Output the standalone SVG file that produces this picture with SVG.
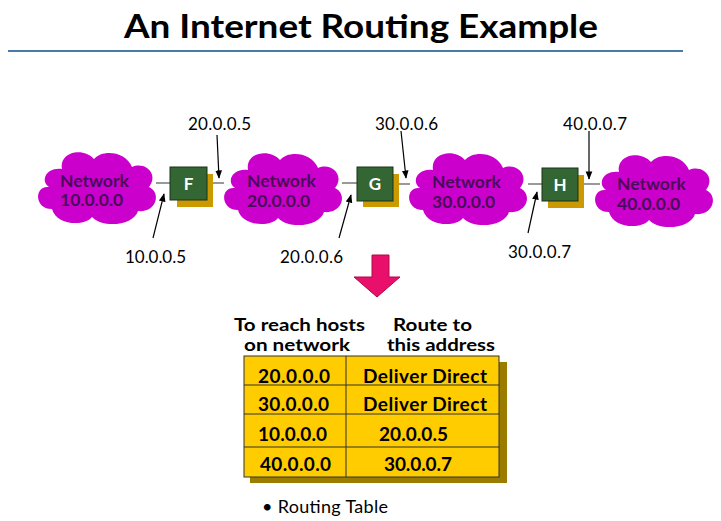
<svg xmlns="http://www.w3.org/2000/svg" width="721" height="521" viewBox="0 0 721 521">
<style>
text{font-family:Lato,"Open Sans","Liberation Sans",sans-serif}
.title{font-size:33px;font-weight:bold;fill:#000}
.lbl{font-size:17px;fill:#000}
.net{font-size:17.5px;font-weight:bold;fill:#4a0a5a}
.cloud{fill:#cc00cc}
.rt{fill:#336633;stroke:#1a331a;stroke-width:1}
.sh{fill:#cc9900}
.rl{font-size:17px;font-weight:bold;fill:#fff;text-anchor:middle}
.link{stroke:#555;stroke-width:1.2;fill:none}
.arr{stroke:#000;stroke-width:1.2;fill:none;marker-end:url(#ah)}
.th{font-size:16.5px;font-weight:bold;fill:#000}
.td{font-size:19px;font-weight:bold;fill:#000}
</style>
<defs>
<marker id="ah" viewBox="0 0 10 10" refX="9" refY="5" markerWidth="7" markerHeight="7" orient="auto"><path d="M0,1 L10,5 L0,9 Z" fill="#000"/></marker>
<path id="cl" d="M15,40 C0,38 0,62 18,62 C22,78 50,80 58,70 C70,82 100,78 104,64 C122,66 128,46 115,40 C125,28 112,14 98,20 C92,4 68,2 60,12 C50,0 25,4 28,22 C12,20 6,34 15,40 Z"/>
</defs>
<rect width="721" height="521" fill="#fff"/>
<text class="title" x="361" y="38" text-anchor="middle" textLength="474" lengthAdjust="spacingAndGlyphs">An Internet Routing Example</text>
<line x1="8" y1="51" x2="683" y2="51" stroke="#4a7ba6" stroke-width="2"/>
<g id="connectors">
<line class="link" x1="156" y1="183" x2="170" y2="183"/>
<line class="link" x1="207" y1="183" x2="224" y2="183"/>
<line class="link" x1="342" y1="183" x2="357" y2="183"/>
<line class="link" x1="393" y1="184" x2="410" y2="184"/>
<line class="link" x1="528" y1="184" x2="542" y2="184"/>
<line class="link" x1="578" y1="184" x2="600" y2="184"/>
<line class="arr" x1="217" y1="135" x2="219" y2="178"/>
<line class="arr" x1="153" y1="238" x2="164" y2="194"/>
<line class="arr" x1="401" y1="131" x2="406" y2="178"/>
<line class="arr" x1="339" y1="238" x2="351" y2="195"/>
<line class="arr" x1="589" y1="131" x2="589" y2="179"/>
<line class="arr" x1="528" y1="233" x2="537" y2="192"/>
</g>
<g id="net10"><use href="#cl" class="cloud" transform="translate(34,147)"/><text class="net" x="60" y="187">Network</text><text class="net" x="60" y="206">10.0.0.0</text></g>
<g id="net20"><use href="#cl" class="cloud" transform="translate(220,148)"/><text class="net" x="247" y="187">Network</text><text class="net" x="247" y="207">20.0.0.0</text></g>
<g id="net30"><use href="#cl" class="cloud" transform="translate(405,148)"/><text class="net" x="432" y="188">Network</text><text class="net" x="432" y="208">30.0.0.0</text></g>
<g id="net40"><use href="#cl" class="cloud" transform="translate(591,150)"/><text class="net" x="617" y="190">Network</text><text class="net" x="617" y="210">40.0.0.0</text></g>
<g id="routerF"><rect class="sh" x="177" y="174" width="36" height="33"/><rect class="rt" x="170" y="167" width="37" height="33"/><text class="rl" x="188.5" y="190">F</text></g>
<g id="routerG"><rect class="sh" x="363" y="174" width="36" height="33"/><rect class="rt" x="357" y="167" width="36" height="34"/><text class="rl" x="375" y="190">G</text></g>
<g id="routerH"><rect class="sh" x="548" y="175" width="36" height="33"/><rect class="rt" x="542" y="168" width="36" height="33"/><text class="rl" x="560" y="191">H</text></g>
<g id="labels">
<text class="lbl" x="188" y="130" textLength="63">20.0.0.5</text>
<text class="lbl" x="125" y="263" textLength="61">10.0.0.5</text>
<text class="lbl" x="375" y="130" textLength="63">30.0.0.6</text>
<text class="lbl" x="280" y="263" textLength="63">20.0.0.6</text>
<text class="lbl" x="563" y="130" textLength="64">40.0.0.7</text>
<text class="lbl" x="508" y="258" textLength="63">30.0.0.7</text>
</g>
<g id="bigArrow"><path d="M372,255 L389,255 L389,277 L400,277 L377,297 L354,277 L372,277 Z" fill="#e8106a" stroke="#b0084a" stroke-width="1"/></g>
<g id="table">
<text class="th" x="234" y="331" textLength="131" lengthAdjust="spacingAndGlyphs">To reach hosts</text>
<text class="th" x="244" y="351" textLength="106" lengthAdjust="spacingAndGlyphs">on network</text>
<text class="th" x="393" y="331" textLength="79" lengthAdjust="spacingAndGlyphs">Route to</text>
<text class="th" x="387" y="351" textLength="108" lengthAdjust="spacingAndGlyphs">this address</text>
<rect x="250" y="362" width="257" height="121" fill="#9a7d00"/>
<rect x="244" y="356" width="255" height="121" fill="#ffcc00" stroke="#333" stroke-width="1"/>
<line x1="346" y1="356" x2="346" y2="477" stroke="#333"/>
<line x1="244" y1="385" x2="499" y2="385" stroke="#333"/>
<line x1="244" y1="414" x2="499" y2="414" stroke="#333"/>
<line x1="244" y1="447" x2="499" y2="447" stroke="#333"/>
<text class="td" x="258" y="383" textLength="72">20.0.0.0</text><text class="td" x="363" y="383" textLength="124">Deliver Direct</text>
<text class="td" x="258" y="411" textLength="71">30.0.0.0</text><text class="td" x="363" y="411" textLength="124">Deliver Direct</text>
<text class="td" x="258" y="441" textLength="69">10.0.0.0</text><text class="td" x="379" y="441" textLength="69">20.0.0.5</text>
<text class="td" x="260" y="471" textLength="71">40.0.0.0</text><text class="td" x="384" y="471" textLength="68">30.0.0.7</text>
</g>
<text x="262" y="513" style="font-size:18px;fill:#000" textLength="126">• Routing Table</text>
</svg>
